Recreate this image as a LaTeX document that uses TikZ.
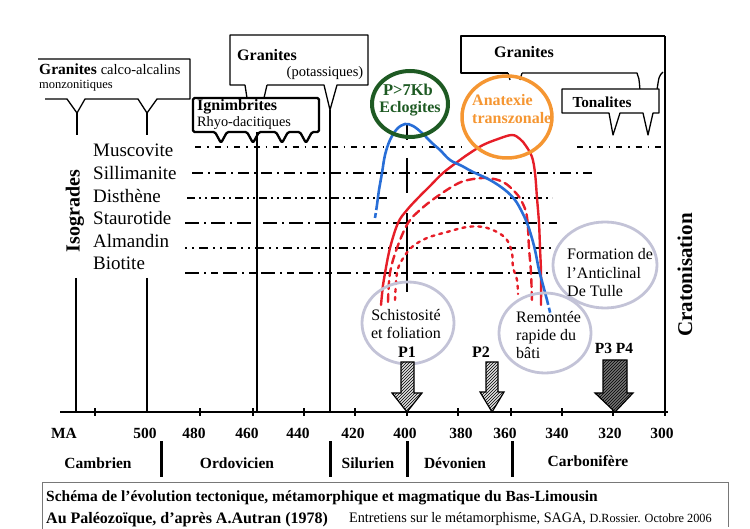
\documentclass[tikz,border=0pt]{standalone}
\usepackage{fontspec}
\setmainfont{Liberation Serif}
\usetikzlibrary{patterns}
\definecolor{ecgreen}{RGB}{30,90,35}
\definecolor{anorange}{RGB}{245,150,50}
\definecolor{pred}{RGB}{230,30,40}
\definecolor{pblue}{RGB}{40,110,215}
\definecolor{lav}{RGB}{195,195,215}
\definecolor{capgray}{RGB}{120,120,120}
\begin{document}
\begin{tikzpicture}[x=1pt,y=-1pt,
  lbl/.style={inner sep=0pt, font=\fontsize{16}{18}\selectfont},
  blbl/.style={inner sep=0pt, font=\bfseries\fontsize{16}{18}\selectfont},
  iso/.style={inner sep=0pt, anchor=west, font=\fontsize{19}{22}\selectfont},
  axnum/.style={inner sep=0pt, font=\bfseries\fontsize{15.5}{18}\selectfont},
  period/.style={inner sep=0pt, font=\bfseries\fontsize{15.5}{18}\selectfont},
  isoline/.style={line width=1.3pt},
  vline/.style={line width=1.2pt},
  boxline/.style={line width=1.3pt, line join=round},
  bboxline/.style={line width=2.3pt, line join=round, rounded corners=1.5pt},
  circ/.style={draw=lav, line width=2.8pt},
  bigarrow/.style={draw, line width=1.2pt, line join=miter},
  redline/.style={draw=pred, line width=2.4pt, line cap=round},
  divbar/.style={line width=3pt}
]
\useasboundingbox (0,0) rectangle (750,529);

% ---------- isograd lines ----------
\draw[isoline, dash pattern=on 6pt off 6pt on 1.5pt off 6pt] (195,147) -- (467,147);
\draw[isoline, dash pattern=on 6pt off 6pt on 1.5pt off 6pt] (577,147) -- (662,147);
\draw[isoline, dash pattern=on 11pt off 5pt on 2pt off 5pt] (192,173) -- (592,173);
\draw[isoline, dash pattern=on 8pt off 4pt on 2pt off 4pt on 2pt off 4pt] (187,198) -- (387,198);
\draw[isoline, dash pattern=on 8pt off 4pt on 2pt off 4pt on 2pt off 4pt] (438,198) -- (552,198);
\draw[isoline, dash pattern=on 14pt off 5pt on 2pt off 5pt] (185,223) -- (557,223);
\draw[isoline, dash pattern=on 2pt off 5pt on 2pt off 5pt on 9pt off 5pt] (185,248) -- (557,248);
\draw[isoline, dash pattern=on 14pt off 5pt on 2pt off 5pt on 7pt off 5pt] (185,273) -- (552,273);

% ---------- vertical lines ----------
\draw[vline] (76,278) -- (76,412);
\draw[vline] (147,278) -- (147,412);
\draw[vline] (257,132) -- (257,412);
\draw[vline] (330,110) -- (330,412);
\draw[vline] (407,125) -- (407,140);
\draw[vline] (407,158) -- (407,193);
\draw[vline] (407,213) -- (407,292);
\draw[vline] (665,36) -- (665,412);

% ---------- time axis ----------
\draw[line width=1.5pt] (60,412) -- (668,412);
\foreach \xx in {95,200,253,304,355,407,458,511,562,613,665}
  \draw[line width=1.3pt] (\xx,408) -- (\xx,416);

% ---------- top-left box : Granites calco-alcalins ----------
\draw[boxline] (38,59) -- (190,59) -- (190,99) -- (157,99) -- (147,113) -- (138,99)
  -- (85,99) -- (77,113) -- (67,99) -- (45,99);
\draw[boxline] (77,113) -- (77,135);
\draw[boxline] (147,113) -- (147,135);
\node[inner sep=0pt, anchor=west] (gca) at (39,69)
  {\fontsize{15.5}{18}\selectfont\textbf{Granites} \fontsize{14.5}{17}\selectfont calco-alcalins};
\node[inner sep=0pt, anchor=west, font=\fontsize{12.5}{15}\selectfont] (gcb) at (39,86) {monzonitiques};

% ---------- Granites potassiques box ----------
\draw[boxline] (245,85) -- (230,85) -- (230,35) -- (368,35) -- (368,85) -- (337,85)
  -- (330,110) -- (324,85) -- (267,85);
\draw[boxline] (245,85) -- (247,98);
\draw[boxline] (267,85) -- (264,98);
\node[inner sep=0pt, font=\bfseries\fontsize{16}{18}\selectfont] (gpa) at (267,55) {Granites};
\node[inner sep=0pt, font=\fontsize{14.5}{17}\selectfont] (gpb) at (325,73) {(potassiques)};

% ---------- Ignimbrites box ----------
\draw[bboxline, fill=white] (193,132) -- (193,98) -- (319,98) -- (319,132)
  -- (312,132) -- (306,143) -- (300,132)
  -- (288,132) -- (282,143) -- (276,132)
  -- (259,132) -- (253,143) -- (247,132)
  -- (227,132) -- (221,143) -- (215,132) -- cycle;
\draw[vline] (257,132) -- (257,145);
\node[inner sep=0pt, anchor=west, font=\bfseries\fontsize{16}{18}\selectfont] (iga) at (197,107) {Ignimbrites};
\node[inner sep=0pt, anchor=west, font=\fontsize{14.3}{17}\selectfont] (igb) at (197,123) {Rhyo-dacitiques};

% ---------- right Granites box ----------
\draw[boxline] (508,73) -- (461,73) -- (461,36) -- (665,36);
\draw[boxline] (522,73) -- (637,73) .. controls (639,78) .. (640,90);
\draw[boxline] (663,72) .. controls (659,76) .. (657,90);
\draw[boxline] (508,73) -- (510,80);
\draw[boxline] (522,73) -- (520,80);
\node[inner sep=0pt, font=\bfseries\fontsize{16}{18}\selectfont] (gra) at (524,52) {Granites};

% ---------- Tonalites box ----------
\draw[boxline, fill=white] (562,113) -- (562,89) -- (659,89) -- (659,113) -- (653,113)
  -- (648,135) -- (643,113) -- (620,113) -- (613,135) -- (609,113) -- cycle;
\node[inner sep=0pt, font=\bfseries\fontsize{15.3}{18}\selectfont] (ton) at (602,102) {Tonalites};

% ---------- red curves ----------
\draw[redline] plot[smooth, tension=0.6] coordinates {(381,305) (383,285) (385,273) (390,248)
  (398,223) (407,210) (418,198) (430,186) (443,173) (460,160) (470,153) (483,145)
  (498,139) (512,135) (520,139) (526,146) (532,157) (535,173) (537,198) (539,223)
  (540,248) (541,273) (541,305)};
\draw[redline, dash pattern=on 8pt off 5pt] plot[smooth, tension=0.6] coordinates {(388,302)
  (390,273) (397,248) (408,223) (420,210) (435,198) (455,185) (468,180) (487,178)
  (503,182) (515,192) (522,202) (527,217) (529,248) (531,273) (532,302)};
\draw[redline, dash pattern=on 3pt off 5pt] plot[smooth, tension=0.6] coordinates {(395,300)
  (397,273) (402,260) (412,247) (427,238) (447,232) (467,227) (483,227) (497,232)
  (507,240) (512,253) (513,267) (517,280) (518,294)};

% ---------- blue curve ----------
\draw[pblue, line width=2.6pt, dash pattern=on 5pt off 3pt] (375,218) -- (377,205);
\draw[pblue, line width=2.6pt, line cap=round] plot[smooth, tension=0.6] coordinates {(377,205)
  (379,190) (382,173) (385,155) (390,140) (397,129) (405,124) (413,126) (422,133)
  (432,143) (440,150) (450,160) (462,166) (473,172) (490,180) (505,190) (515,200)
  (522,212) (527,223) (531,235) (535,250) (539,270) (543,285) (547,300)};
\draw[pblue, line width=2.6pt, dash pattern=on 5pt off 3pt] (547,300) -- (551,316);

% ---------- green & orange circles ----------
\draw[ecgreen, line width=4pt] (410,104) ellipse [x radius=38, y radius=33];
\node[inner sep=0pt, text=ecgreen, font=\bfseries\fontsize{16.5}{18}\selectfont] (pkb) at (408,90) {P>7Kb};
\node[inner sep=0pt, text=ecgreen, font=\bfseries\fontsize{16}{18}\selectfont] (ecl) at (410,109) {Eclogites};
\draw[anorange, line width=3.5pt] (507,117) ellipse [x radius=45, y radius=41];
\node[inner sep=0pt, anchor=west, text=anorange, font=\bfseries\fontsize{16}{18}\selectfont] (ana) at (472,100) {Anatexie};
\node[inner sep=0pt, anchor=west, text=anorange, font=\bfseries\fontsize{16}{18}\selectfont] (tra) at (472,118) {transzonale};

% ---------- lavender circles ----------
\draw[circ] (408,323) ellipse [x radius=46, y radius=41];
\node[lbl, align=center] (sch) at (406,324) {Schistosité\\et foliation};
\draw[circ] (545,333) ellipse [x radius=46, y radius=40];
\node[lbl, align=left, anchor=west, font=\fontsize{16}{18}\selectfont] (rem) at (516,335) {Remontée\\rapide du\\bâti};
\draw[circ] (605,265) ellipse [x radius=52, y radius=43];
\node[lbl, align=left, anchor=west, font=\fontsize{16}{18.5}\selectfont] (ant) at (567,273) {Formation de\\l’Anticlinal\\De Tulle};

% ---------- P arrows ----------
\path[bigarrow, preaction={fill=black!12}, pattern=north east lines]
  (401,362) -- (414,362) -- (414,393) -- (422,393) -- (407,412) -- (392,393) -- (401,393) -- cycle;
\path[bigarrow, preaction={fill=black!12}, pattern=north east lines]
  (486,362) -- (498,362) -- (498,392) -- (504,392) -- (492,412) -- (480,392) -- (486,392) -- cycle;
\path[bigarrow, preaction={fill=black!55}, pattern=north east lines]
  (603,360) -- (627,360) -- (627,393) -- (633,393) -- (615,412) -- (595,393) -- (603,393) -- cycle;
\node[blbl] (p1) at (407,352) {P1};
\node[blbl] (p2) at (481,352) {P2};
\node[inner sep=0pt, font=\bfseries\fontsize{15.5}{18}\selectfont] (p34) at (614,348) {P3 P4};

% ---------- isograd labels ----------
\node[iso] (mus) at (93,150) {Muscovite};
\node[iso] (sil) at (93,173) {Sillimanite};
\node[iso] (dis) at (93,196) {Disthène};
\node[iso] (sta) at (93,218) {Staurotide};
\node[iso] (alm) at (93,241) {Almandin};
\node[iso] (bio) at (93,263) {Biotite};
\node[inner sep=0pt, rotate=90, font=\bfseries\fontsize{20}{22}\selectfont] (isog) at (75,211) {Isogrades};
\node[inner sep=0pt, rotate=90, font=\bfseries\fontsize{21}{24}\selectfont] (crat) at (685,275) {Cratonisation};

% ---------- axis labels ----------
\node[axnum] (ma) at (64,433) {MA};
\node[axnum] (a500) at (145,433) {500};
\node[axnum] (a480) at (194,433) {480};
\node[axnum] (a460) at (247,433) {460};
\node[axnum] (a440) at (298,433) {440};
\node[axnum] (a420) at (353,433) {420};
\node[axnum] (a400) at (405,433) {400};
\node[axnum] (a380) at (461,433) {380};
\node[axnum] (a360) at (505,433) {360};
\node[axnum] (a340) at (557,433) {340};
\node[axnum] (a320) at (610,433) {320};
\node[axnum] (a300) at (662,433) {300};

% ---------- periods ----------
\draw[divbar] (161,441) -- (161,477);
\draw[divbar] (330,441) -- (330,477);
\draw[divbar] (407,441) -- (407,477);
\draw[divbar] (512,441) -- (512,477);
\node[period] (cam) at (98,463) {Cambrien};
\node[period] (ord) at (237,463) {Ordovicien};
\node[period] (sil2) at (368,463) {Silurien};
\node[period] (dev) at (455,463) {Dévonien};
\node[period] (car) at (588,461) {Carbonifère};

% ---------- caption ----------
\draw[capgray, line width=0.9pt] (42,529) -- (42,482) -- (728,482) -- (728,527);
\node[inner sep=0pt, anchor=west, font=\bfseries\fontsize{15.5}{18}\selectfont] (cap1) at (46,498)
  {Schéma de l’évolution tectonique, métamorphique et magmatique du Bas-Limousin};
\node[inner sep=0pt, anchor=west, font=\bfseries\fontsize{16}{18}\selectfont] (cap2) at (46,520)
  {Au Paléozoïque, d’après A.Autran (1978)};
\node[inner sep=0pt, anchor=west] (cap3) at (349,519)
  {\scalebox{0.98}[1]{\fontsize{14.5}{16}\selectfont Entretiens sur le métamorphisme, SAGA, \fontsize{12.5}{14}\selectfont D.Rossier. Octobre 2006}};
\end{tikzpicture}
\end{document}
